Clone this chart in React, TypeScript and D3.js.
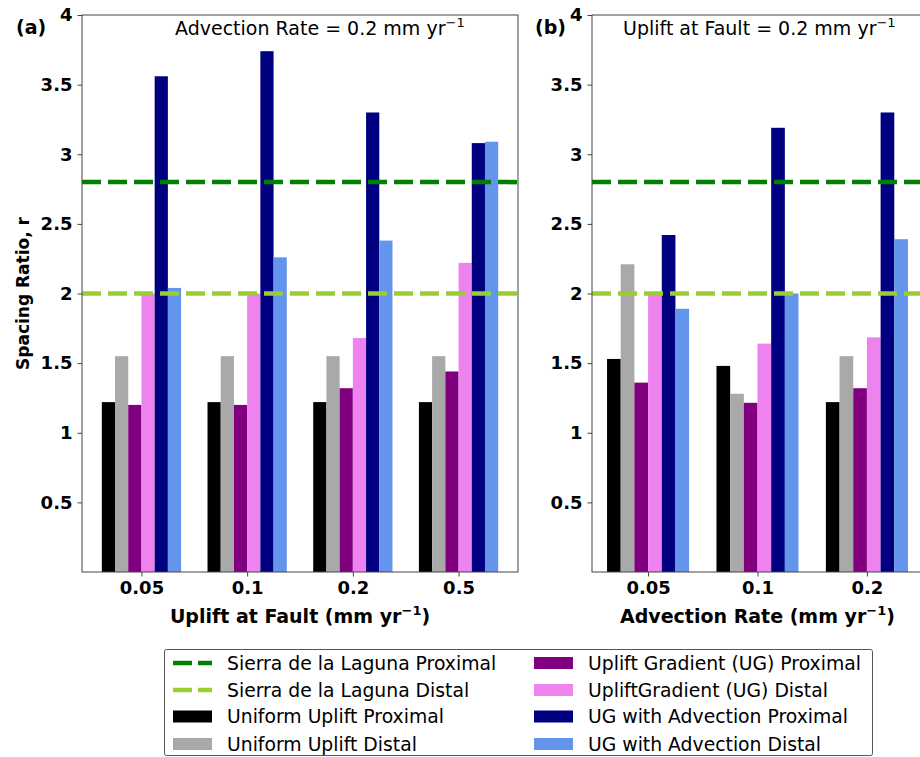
import React, { useEffect, useRef } from 'react';
import * as d3 from 'd3';

// categories
const upliftRates = ['0.05', '0.1', '0.2', '0.5'];
const advectionRates = ['0.05', '0.1', '0.2'];
const yTicks = [0.5, 1, 1.5, 2, 2.5, 3, 3.5, 4];

// panel (a): advection rate = 0.2, varying uplift at fault
const uniformProxA = [1.22, 1.22, 1.22, 1.22];
const uniformDistA = [1.55, 1.55, 1.55, 1.55];
const ugProxA = [1.2, 1.2, 1.32, 1.44];
const ugDistA = [2.0, 2.0, 1.68, 2.22];
const ugAdvProxA = [3.56, 3.74, 3.3, 3.08];
const ugAdvDistA = [2.04, 2.26, 2.38, 3.09];

// panel (b): uplift at fault = 0.2, varying advection rate
const uniformProxB = [1.53, 1.48, 1.22];
const uniformDistB = [2.21, 1.28, 1.55];
const ugProxB = [1.36, 1.215, 1.32];
const ugDistB = [2.0, 1.64, 1.685];
const ugAdvProxB = [2.42, 3.19, 3.3];
const ugAdvDistB = [1.89, 2.0, 2.39];

// observed spacing ratios
const sierraProximal = 2.8;
const sierraDistal = 2.0;

const seriesNames = [
  'Uniform Uplift Proximal',
  'Uniform Uplift Distal',
  'Uplift Gradient (UG) Proximal',
  'UpliftGradient (UG) Distal',
  'UG with Advection Proximal',
  'UG with Advection Distal',
];
const seriesColors = ['#000000', '#a9a9a9', '#800080', '#ee82ee', '#000080', '#6495ed'];

const FONT = '"DejaVu Sans", sans-serif';

function App() {
  const ref = useRef<SVGSVGElement>(null);

  useEffect(() => {
    const svg = d3.select(ref.current);
    svg.selectAll('*').remove();

    const top = 15, bottom = 572;
    const y = d3.scaleLinear().domain([0, 4]).range([bottom, top]);
    const barW = 0.125;

    const panels = [
      {
        label: '(a)', labelX: 16, note: 'Advection Rate = 0.2 mm yr', noteX: 175,
        xlab: 'Uplift at Fault (mm yr', cats: upliftRates,
        series: [uniformProxA, uniformDistA, ugProxA, ugDistA, ugAdvProxA, ugAdvDistA],
        x: d3.scaleLinear().domain([-0.5625, 3.5625]).range([82, 518]),
      },
      {
        label: '(b)', labelX: 535, note: 'Uplift at Fault = 0.2 mm yr', noteX: 623,
        xlab: 'Advection Rate (mm yr', cats: advectionRates,
        series: [uniformProxB, uniformDistB, ugProxB, ugDistB, ugAdvProxB, ugAdvDistB],
        x: d3.scaleLinear().domain([-0.5125, 2.5125]).range([592, 923]),
      },
    ];

    panels.forEach(p => {
      const [x0, x1] = p.x.range();
      const g = svg.append('g');

      // bars
      p.series.forEach((vals, si) => {
        g.selectAll(`.bar${si}`)
          .data(vals)
          .join('rect')
          .attr('class', `bar${si}`)
          .attr('x', (d, i) => p.x(i + (si - 3) * barW))
          .attr('width', p.x(barW) - p.x(0))
          .attr('y', d => y(d))
          .attr('height', d => y(0) - y(d))
          .attr('fill', seriesColors[si]);
      });

      // reference lines
      [[sierraProximal, '#008000'], [sierraDistal, '#9acd32']].forEach(([v, c]) => {
        g.append('line')
          .attr('x1', x0).attr('x2', x1)
          .attr('y1', y(v as number)).attr('y2', y(v as number))
          .attr('stroke', c as string)
          .attr('stroke-width', 4.5)
          .attr('stroke-dasharray', '19 7');
      });

      // frame
      g.append('rect')
        .attr('x', x0).attr('y', top)
        .attr('width', x1 - x0).attr('height', bottom - top)
        .attr('fill', 'none').attr('stroke', '#444').attr('stroke-width', 1);

      const yAxis = g.append('g')
        .attr('transform', `translate(${x0},0)`)
        .call(d3.axisLeft(y).tickValues(yTicks).tickFormat(d => String(d)).tickSize(4.5).tickSizeOuter(0).tickPadding(5));
      yAxis.select('.domain').remove();

      const xAxis = g.append('g')
        .attr('transform', `translate(0,${bottom})`)
        .call(d3.axisBottom(p.x).tickValues(p.cats.map((c, i) => i)).tickFormat((d: any) => p.cats[d]).tickSize(4.5).tickSizeOuter(0).tickPadding(5));
      xAxis.select('.domain').remove();

      [yAxis, xAxis].forEach(ax => {
        ax.selectAll('line').attr('stroke', '#444');
        ax.selectAll('text')
          .attr('fill', '#000')
          .style('font-family', FONT)
          .style('font-size', '18px')
          .style('font-weight', 'bold');
      });

      // panel letter
      g.append('text')
        .attr('x', p.labelX).attr('y', 34)
        .style('font-family', FONT).style('font-size', '19px').style('font-weight', 'bold')
        .text(p.label);

      // annotation
      const note = g.append('text')
        .attr('x', p.noteX).attr('y', 35)
        .style('font-family', FONT).style('font-size', '19px');
      note.append('tspan').text(p.note);
      note.append('tspan').attr('font-size', 13).attr('dy', -8).text('\u22121');

      // x label
      const xl = g.append('text')
        .attr('x', (x0 + x1) / 2).attr('y', 623)
        .attr('text-anchor', 'middle')
        .style('font-family', FONT).style('font-size', '19px').style('font-weight', 'bold');
      xl.append('tspan').text(p.xlab);
      xl.append('tspan').attr('font-size', 13).attr('dy', -8).text('\u22121');
      xl.append('tspan').attr('dy', 8).text(')');
    });

    // y label
    svg.append('text')
      .attr('transform', `translate(29, ${(top + bottom) / 2}) rotate(-90)`)
      .attr('text-anchor', 'middle')
      .style('font-family', FONT).style('font-size', '17px').style('font-weight', 'bold')
      .text('Spacing Ratio, r');

    // legend
    const lg = svg.append('g');
    lg.append('rect')
      .attr('x', 164.5).attr('y', 649.5).attr('width', 708).attr('height', 106)
      .attr('rx', 2)
      .attr('fill', '#fff').attr('stroke', '#555').attr('stroke-width', 1);

    const rowY = [663, 690, 716.5, 744];
    const items = [
      { name: 'Sierra de la Laguna Proximal', color: '#008000', line: true },
      { name: 'Sierra de la Laguna Distal', color: '#9acd32', line: true },
      { name: seriesNames[0], color: seriesColors[0], line: false },
      { name: seriesNames[1], color: seriesColors[1], line: false },
      { name: seriesNames[2], color: seriesColors[2], line: false },
      { name: seriesNames[3], color: seriesColors[3], line: false },
      { name: seriesNames[4], color: seriesColors[4], line: false },
      { name: seriesNames[5], color: seriesColors[5], line: false },
    ];
    items.forEach((it, i) => {
      const col = Math.floor(i / 4);
      const hx = col === 0 ? 173 : 534;
      const tx = col === 0 ? 227 : 588;
      const cy = rowY[i % 4];
      if (it.line) {
        lg.append('line')
          .attr('x1', hx).attr('x2', hx + 39)
          .attr('y1', cy).attr('y2', cy)
          .attr('stroke', it.color).attr('stroke-width', 4.5)
          .attr('stroke-dasharray', '19 6');
      } else {
        lg.append('rect')
          .attr('x', hx).attr('y', cy - 6)
          .attr('width', 39).attr('height', 12)
          .attr('fill', it.color);
      }
      lg.append('text')
        .attr('x', tx).attr('y', cy + 6.5)
        .style('font-family', FONT).style('font-size', '18.8px')
        .text(it.name);
    });
  }, []);

  return (
    <svg ref={ref} width={920} height={757}
      style={{ position: 'absolute', left: 0, top: 0, background: '#fff' }} />
  );
}

export default App;
